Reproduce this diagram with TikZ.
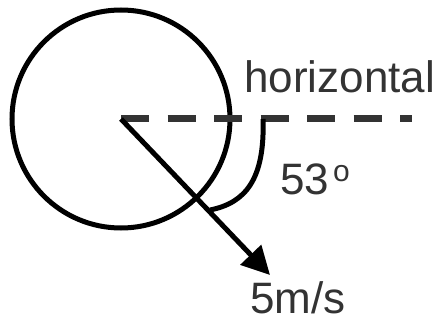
\documentclass[tikz,border=0pt]{standalone}
\usepackage{fontspec}
\setmainfont{Liberation Sans}
\usetikzlibrary{arrows.meta}
\definecolor{txt}{HTML}{333333}
\begin{document}
\begin{tikzpicture}[x=1pt,y=-1pt,
  lbl/.style={anchor=base west,inner sep=0pt,text=txt,font=\fontsize{44}{50}\selectfont},
  stroke/.style={line width=5pt,black},
  dashline/.style={line width=7pt,txt,dash pattern=on 28pt off 18.5pt}]
\useasboundingbox (0,0) rectangle (444,320);
\coordinate (o) at (121,119);
\node[circle,draw,stroke,minimum size=218pt,inner sep=0pt] (c) at (o) {};
\coordinate (hend) at (412,119);
\coordinate (tip) at (270,275);
\coordinate (a0) at (263,119);
\coordinate (a1) at (210,210);
\draw[dashline] (o) -- (hend);
\draw[stroke,-{Triangle[length=28pt,width=28pt]}] (o) -- (tip);
\draw[stroke] (a0) .. controls (265,180) and (245,203) .. (a1);
\node[lbl] (h) at (244,93) {horizontal};
\node[lbl] (ang) at (280,195) {53\hspace{4pt}\raisebox{13pt}{\fontsize{30}{30}\selectfont o}};
\node[lbl,text depth=2pt] (v) at (250,313) {5m/s};
\end{tikzpicture}
\end{document}
